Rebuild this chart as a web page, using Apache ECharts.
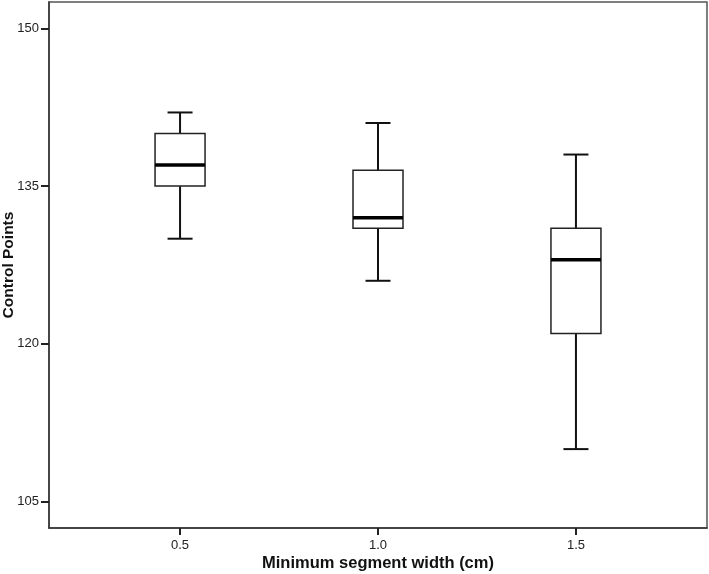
<!DOCTYPE html>
<html>
<head>
<meta charset="utf-8">
<script src="https://cdn.jsdelivr.net/npm/echarts@6/dist/echarts.min.js"></script>
<style>html,body{margin:0;padding:0;background:#fff;}#chart{width:709px;height:574px;}</style>
</head>
<body>
<div id="chart"></div>
<script>
var categories = [0.5, 1.0, 1.5];
var whiskerLow = [130, 126, 110];
var q1 = [135, 131, 121];
var medians = [137, 132, 128];
var q3 = [140, 136.5, 131];
var whiskerHigh = [142, 141, 138];
var yTicks = [105, 120, 135, 150];

var data = categories.map(function (c, i) {
  return [c, whiskerLow[i], q1[i], medians[i], q3[i], whiskerHigh[i]];
});

var chart = echarts.init(document.getElementById('chart'));
var BOX_W = 50, CAP_W = 25;
chart.setOption({
  animation: false,
  grid: { left: 49, right: 2, top: 2, bottom: 46, show: true, borderColor: '#555', borderWidth: 1.5, backgroundColor: '#fff',
    containLabel: false, outerBoundsMode: 'none' },
  xAxis: {
    type: 'value', min: 0.169, max: 1.831,
    name: 'Minimum segment width (cm)', nameLocation: 'middle', nameGap: 27, nameMoveOverlap: false,
    nameTextStyle: { fontFamily: 'Liberation Sans', fontWeight: 'bold', fontSize: 16.5, color: '#111' },
    splitLine: { show: false },
    axisLine: { show: true, lineStyle: { color: '#333', width: 1.5 } },
    axisTick: { show: true, customValues: categories, length: 7, lineStyle: { color: '#222', width: 2 } },
    axisLabel: { customValues: categories, margin: 11, fontFamily: 'Liberation Sans', fontSize: 13, color: '#222',
      formatter: function (v) { return Number(v).toFixed(1); } }
  },
  yAxis: {
    type: 'value', min: 102.5, max: 152.5,
    name: 'Control Points', nameLocation: 'middle', nameGap: 32, nameMoveOverlap: false,
    nameTextStyle: { fontFamily: 'Liberation Sans', fontWeight: 'bold', fontSize: 15.5, color: '#111' },
    splitLine: { show: false },
    axisLine: { show: true, lineStyle: { color: '#333', width: 1.5 } },
    axisTick: { show: true, customValues: yTicks, length: 8, lineStyle: { color: '#222', width: 2 } },
    axisLabel: { customValues: yTicks, margin: 10, fontFamily: 'Liberation Sans', fontSize: 13, color: '#222' }
  },
  series: [{
    type: 'custom',
    data: data,
    encode: { x: 0, y: [1, 2, 3, 4, 5] },
    renderItem: function (params, api) {
      var x = api.value(0);
      var pLow = api.coord([x, api.value(1)]);
      var pQ1 = api.coord([x, api.value(2)]);
      var pMed = api.coord([x, api.value(3)]);
      var pQ3 = api.coord([x, api.value(4)]);
      var pHigh = api.coord([x, api.value(5)]);
      var cx = pLow[0];
      var line = { stroke: '#111', lineWidth: 2 };
      return {
        type: 'group',
        children: [
          { type: 'line', shape: { x1: cx, y1: pHigh[1], x2: cx, y2: pQ3[1] }, style: line },
          { type: 'line', shape: { x1: cx, y1: pQ1[1], x2: cx, y2: pLow[1] }, style: line },
          { type: 'line', shape: { x1: cx - CAP_W / 2, y1: pHigh[1], x2: cx + CAP_W / 2, y2: pHigh[1] }, style: line },
          { type: 'line', shape: { x1: cx - CAP_W / 2, y1: pLow[1], x2: cx + CAP_W / 2, y2: pLow[1] }, style: line },
          { type: 'rect', shape: { x: cx - BOX_W / 2, y: pQ3[1], width: BOX_W, height: pQ1[1] - pQ3[1] },
            style: { fill: '#fff', stroke: '#222', lineWidth: 1.5 } },
          { type: 'line', shape: { x1: cx - BOX_W / 2, y1: pMed[1], x2: cx + BOX_W / 2, y2: pMed[1] },
            style: { stroke: '#000', lineWidth: 3.5 } }
        ]
      };
    }
  }]
});
</script>
</body>
</html>
